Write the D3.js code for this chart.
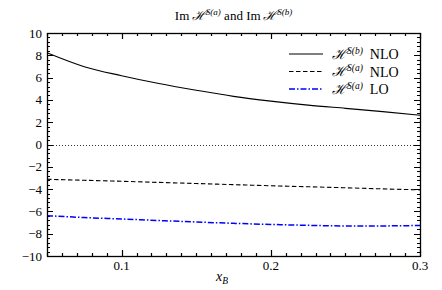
<!DOCTYPE html>
<html>
<head>
<meta charset="utf-8">
<script src="https://cdn.jsdelivr.net/npm/d3@7"></script>
<style>
  body { margin: 0; background: #fff; }
</style>
</head>
<body>
<div id="chart"></div>
<script>
// values
const xB = [0.05, 0.075, 0.1, 0.125, 0.15, 0.175, 0.2, 0.225, 0.25, 0.275, 0.3];
const hsbNLO = [8.23, 6.98, 6.17, 5.47, 4.87, 4.32, 3.89, 3.53, 3.24, 2.95, 2.62];
const hsaNLO = [-3.12, -3.21, -3.30, -3.40, -3.50, -3.60, -3.70, -3.79, -3.88, -3.98, -4.07];
const hsaLO  = [-6.38, -6.55, -6.68, -6.82, -6.95, -7.07, -7.17, -7.25, -7.30, -7.30, -7.26];
const xTicks = [0.1, 0.2, 0.3];
const yTicks = [-10, -8, -6, -4, -2, 0, 2, 4, 6, 8, 10];

const FONT = "'Liberation Serif', 'Times New Roman', 'DejaVu Serif', serif";

const margin = {top: 33, right: 22, bottom: 34, left: 47},
  width = 442 - margin.left - margin.right,
  height = 290 - margin.top - margin.bottom;

const svg = d3.select("#chart")
  .append("svg")
    .attr("width", 442)
    .attr("height", 290)
    .attr("font-family", FONT);

const g = svg.append("g")
    .attr("transform", `translate(${margin.left}, ${margin.top})`);

const x = d3.scaleLinear().domain([0.05, 0.3]).range([0, width]);
const y = d3.scaleLinear().domain([-10, 10]).range([height, 0]);

const fmtMinus = d => (d < 0 ? "\u2212" + Math.abs(d) : "" + d);
const px = v => Math.round(v) + 0.5;

// minor ticks
const xMinor = d3.range(0.05, 0.3001, 0.01).map(d => +d.toFixed(2));
const yMinor = d3.range(-10, 10.001, 0.4).map(d => +d.toFixed(1));

// all ticks as one path, pointing inward on all four sides
let tp = "";
[[xMinor, 3], [xTicks, 6]].forEach(([vals, len]) => {
  vals.forEach(d => {
    const xx = px(x(d));
    tp += `M${xx},${height}v${-len}M${xx},0v${len}`;
  });
});
[[yMinor, 3], [yTicks, 6]].forEach(([vals, len]) => {
  vals.forEach(d => {
    const yy = px(y(d));
    tp += `M0,${yy}h${len}M${width},${yy}h${-len}`;
  });
});
g.append("path")
  .attr("d", tp)
  .attr("fill", "none")
  .attr("stroke", "#000")
  .attr("stroke-width", 1.2);

// tick labels
g.selectAll(".xl").data(xTicks).join("text")
  .attr("x", d => x(d)).attr("y", height + 14)
  .attr("text-anchor", "middle")
  .attr("font-size", 13).attr("fill", "#000")
  .text(d3.format(".1f"));

g.selectAll(".yl").data(yTicks).join("text")
  .attr("x", -5).attr("y", d => y(d)).attr("dy", "0.35em")
  .attr("text-anchor", "end")
  .attr("font-size", 13).attr("fill", "#000")
  .text(fmtMinus);

// zero line
g.append("line")
  .attr("x1", 0).attr("x2", width)
  .attr("y1", px(y(0))).attr("y2", px(y(0)))
  .attr("stroke", "#000").attr("stroke-width", 0.8)
  .attr("stroke-dasharray", "1,2");

const series = [
  {name: "S(b)", tag: "NLO", vals: hsbNLO, color: "#000", dash: null, w: 1.1},
  {name: "S(a)", tag: "NLO", vals: hsaNLO, color: "#000", dash: "4.5,2.5", w: 1.1},
  {name: "S(a)", tag: "LO", vals: hsaLO, color: "#0000ff", dash: "6,2,1.5,2", w: 1.5}
];

const line = d3.line()
  .x(d => x(d[0]))
  .y(d => y(d[1]))
  .curve(d3.curveMonotoneX);

series.forEach(s => {
  g.append("path")
    .datum(xB.map((v, i) => [v, s.vals[i]]))
    .attr("fill", "none")
    .attr("stroke", s.color)
    .attr("stroke-width", s.w)
    .attr("stroke-dasharray", s.dash)
    .attr("d", line);
});

// frame
g.append("rect")
  .attr("x", 0.5).attr("y", 0.5)
  .attr("width", width).attr("height", height)
  .attr("fill", "none").attr("stroke", "#000").attr("stroke-width", 1.3);

// legend
const leg = g.append("g").attr("transform", `translate(${289 - margin.left}, ${54 - margin.top})`);
series.forEach((s, i) => {
  const row = leg.append("g").attr("transform", `translate(0, ${i * 17.5})`);
  row.append("line")
    .attr("x1", 0).attr("x2", 34)
    .attr("stroke", s.color).attr("stroke-width", s.w)
    .attr("stroke-dasharray", s.dash);
  const t = row.append("text").attr("x", 43).attr("dy", "0.35em")
    .attr("font-size", 14).attr("fill", "#000");
  t.append("tspan").attr("font-style", "italic").text("\u210B");
  t.append("tspan").attr("font-size", 9.5).attr("font-style", "italic").attr("dy", "-0.55em").text(s.name);
  t.append("tspan").attr("dy", "0.38em").text("\u2002" + s.tag);
});

// title
const title = svg.append("text")
  .attr("x", margin.left + width / 2).attr("y", 20)
  .attr("text-anchor", "middle").attr("font-size", 13).attr("fill", "#000");
title.append("tspan").text("Im\u2009");
title.append("tspan").attr("font-style", "italic").text("\u210B");
title.append("tspan").attr("font-size", 9).attr("font-style", "italic").attr("dy", "-0.6em").text("S(a)");
title.append("tspan").attr("dy", "0.42em").text(" and Im\u2009");
title.append("tspan").attr("font-style", "italic").text("\u210B");
title.append("tspan").attr("font-size", 9).attr("font-style", "italic").attr("dy", "-0.6em").text("S(b)");

// x label
const xl = svg.append("text")
  .attr("x", 222).attr("y", 281)
  .attr("text-anchor", "middle").attr("font-size", 14).attr("fill", "#000");
xl.append("tspan").attr("font-style", "italic").text("x");
xl.append("tspan").attr("font-style", "italic").attr("font-size", 9.5).attr("dy", "0.3em").text("B");
</script>
</body>
</html>
